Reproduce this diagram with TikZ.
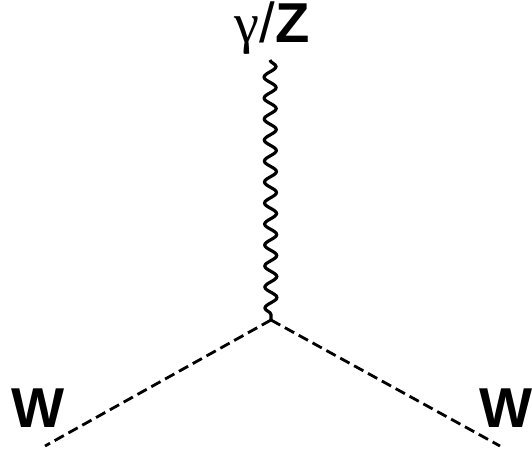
\documentclass[tikz,border=0pt]{standalone}
\usepackage{fontspec}
\setmainfont{Liberation Sans}
\newfontfamily\greekfont{Liberation Serif}
\usetikzlibrary{decorations.pathmorphing}

\begin{document}
\begin{tikzpicture}[x=0.02cm, y=-0.02cm, font=\fontsize{32}{34}\selectfont\bfseries,
    boson/.style={line width=1.8pt, decorate, decoration={snake, amplitude=0.12cm, segment length=0.42cm}},
    scalar/.style={line width=1.6pt, dash pattern=on 6pt off 3pt},
    lbl/.style={inner sep=0pt}]

  \useasboundingbox (0,0) rectangle (532,451);

  % vertex and line ends
  \coordinate (v) at (271,320);
  \coordinate (top) at (270,60);
  \coordinate (wl) at (45,446);
  \coordinate (wr) at (500,446);

  % photon / Z line
  \draw[boson] (top) -- (v);

  % the two W lines
  \draw[scalar] (v) -- (wl);
  \draw[scalar] (v) -- (wr);

  % labels
  \node[lbl] (gz) at (272,28) {{\greekfont\mdseries γ}{\mdseries/}Z};
  \node[lbl] (lW) at (38,408) {W};
  \node[lbl] (rW) at (506,408) {W};

\end{tikzpicture}
\end{document}
